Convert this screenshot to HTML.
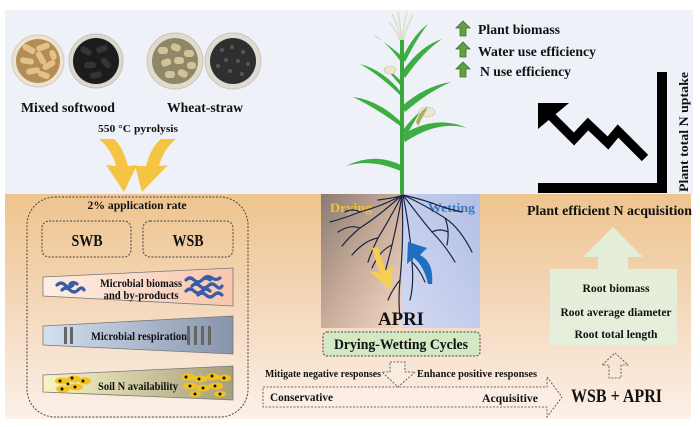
<!DOCTYPE html>
<html><head><meta charset="utf-8"><style>
html,body{margin:0;padding:0;background:#fff;}
svg{display:block;}
text{font-family:"Liberation Serif",serif;font-weight:bold;fill:#111;}
</style></head><body>
<svg width="700" height="427" viewBox="0 0 700 427" xmlns="http://www.w3.org/2000/svg">
<defs>
<linearGradient id="soil" x1="0" y1="0" x2="0" y2="1">
<stop offset="0" stop-color="#eec48e"/><stop offset="0.45" stop-color="#f3d6b6"/><stop offset="1" stop-color="#fcf0e9"/>
</linearGradient>
<linearGradient id="dry" x1="0" y1="0" x2="1" y2="1">
<stop offset="0" stop-color="#8a7b74"/><stop offset="0.5" stop-color="#c9ad9a"/><stop offset="1" stop-color="#f3d9c6"/>
</linearGradient>
<linearGradient id="wet" x1="1" y1="0" x2="0" y2="1">
<stop offset="0" stop-color="#b3bfe6"/><stop offset="1" stop-color="#d2d9f1"/>
</linearGradient>
<linearGradient id="t1" x1="0" y1="0" x2="1" y2="0"><stop offset="0" stop-color="#fdeee4"/><stop offset="1" stop-color="#f7c6ac"/></linearGradient>
<linearGradient id="t2" x1="0" y1="0" x2="1" y2="0"><stop offset="0" stop-color="#d3e0f0"/><stop offset="1" stop-color="#8794ab"/></linearGradient>
<linearGradient id="t3" x1="0" y1="0" x2="1" y2="0"><stop offset="0" stop-color="#f8f4c6"/><stop offset="1" stop-color="#a59f7c"/></linearGradient>
</defs>

<!-- backgrounds -->
<rect x="5" y="10" width="688" height="185" fill="#eef2f8"/>
<rect x="5" y="194" width="686" height="225" fill="url(#soil)"/>

<!-- bowls -->
<circle cx="38" cy="61" r="26" fill="#ece3d0" stroke="#d6ccb8"/>
<circle cx="38" cy="61" r="22" fill="#b38d55"/>
<g fill="#e3c288">
<rect x="22" y="46" width="14" height="6" rx="3" transform="rotate(30 29 49)"/>
<rect x="36" y="44" width="14" height="6" rx="3" transform="rotate(-20 43 47)"/>
<rect x="20" y="58" width="14" height="6" rx="3" transform="rotate(10 27 61)"/>
<rect x="34" y="55" width="14" height="6" rx="3" transform="rotate(60 41 58)"/>
<rect x="42" y="62" width="14" height="6" rx="3" transform="rotate(-30 49 65)"/>
<rect x="26" y="68" width="14" height="6" rx="3" transform="rotate(-10 33 71)"/>
<rect x="38" y="72" width="12" height="6" rx="3" transform="rotate(20 44 75)"/>
<rect x="48" y="52" width="10" height="6" rx="3" transform="rotate(70 53 55)"/>
</g>
<circle cx="96" cy="61" r="27" fill="#dcd8cf" stroke="#c8c3b8"/>
<circle cx="96" cy="61" r="23" fill="#1c1c1c"/>
<g fill="#353535">
<rect x="80" y="48" width="12" height="6" rx="3" transform="rotate(30 86 51)"/>
<rect x="96" y="46" width="12" height="6" rx="3" transform="rotate(-20 102 49)"/>
<rect x="84" y="62" width="12" height="6" rx="3"/>
<rect x="100" y="60" width="12" height="6" rx="3" transform="rotate(50 106 63)"/>
<rect x="90" y="72" width="12" height="6" rx="3" transform="rotate(-15 96 75)"/>
</g>
<circle cx="175" cy="61" r="28" fill="#dfdbce" stroke="#cbc5b6"/>
<circle cx="175" cy="61" r="23" fill="#8f8768"/>
<g fill="#cfc397">
<rect x="158" y="47" width="10" height="7" rx="3"/><rect x="171" y="44" width="10" height="7" rx="3" transform="rotate(20 176 47)"/>
<rect x="184" y="50" width="10" height="7" rx="3"/><rect x="161" y="59" width="10" height="7" rx="3" transform="rotate(-20 166 62)"/>
<rect x="174" y="57" width="10" height="7" rx="3"/><rect x="187" y="62" width="9" height="7" rx="3"/>
<rect x="165" y="71" width="10" height="7" rx="3"/><rect x="178" y="70" width="10" height="7" rx="3" transform="rotate(25 183 73)"/>
</g>
<circle cx="233" cy="61" r="28" fill="#dedbd3" stroke="#c9c5bc"/>
<circle cx="233" cy="61" r="23" fill="#2f2f2f"/>
<g fill="#575757">
<circle cx="222" cy="50" r="2"/><circle cx="232" cy="47" r="2"/><circle cx="243" cy="52" r="2"/><circle cx="226" cy="60" r="2"/>
<circle cx="238" cy="61" r="2"/><circle cx="248" cy="64" r="2"/><circle cx="218" cy="66" r="2"/><circle cx="230" cy="71" r="2"/><circle cx="242" cy="74" r="2"/>
</g>

<text x="21" y="112" font-size="14" textLength="94" lengthAdjust="spacingAndGlyphs">Mixed softwood</text>
<text x="167" y="112" font-size="14" textLength="76" lengthAdjust="spacingAndGlyphs">Wheat-straw</text>
<text x="98" y="132" font-size="11" textLength="80" lengthAdjust="spacingAndGlyphs">550 °C pyrolysis</text>

<!-- yellow arrows -->
<path d="M99,139 Q112,150 116,166 L106,165 L124,192 L137,165 L128,166 Q123,147 114,139 Z" fill="#f6c443"/>
<path d="M176,139 Q163,150 159,166 L168,165 L142,192 L135,166 L146,166 Q151,147 161,139 Z" fill="#f6c443"/>

<!-- left dashed container -->
<rect x="27" y="197" width="221" height="220" rx="28" fill="none" stroke="#444" stroke-width="1" stroke-dasharray="2,1.5"/>
<text x="137" y="209" font-size="12" text-anchor="middle" textLength="99" lengthAdjust="spacingAndGlyphs">2% application rate</text>
<rect x="42" y="221" width="89" height="36" rx="7" fill="none" stroke="#444" stroke-dasharray="2,1.5"/>
<rect x="143" y="221" width="90" height="36" rx="7" fill="none" stroke="#444" stroke-dasharray="2,1.5"/>
<text x="87" y="246" font-size="17" text-anchor="middle" textLength="31" lengthAdjust="spacingAndGlyphs">SWB</text>
<text x="188" y="246" font-size="17" text-anchor="middle" textLength="31" lengthAdjust="spacingAndGlyphs">WSB</text>

<!-- trapezoids -->
<polygon points="43,277 233,268 233,306 43,296" fill="url(#t1)" stroke="#777" stroke-width="0.8"/>
<polygon points="43,326 233,316 233,354 43,345" fill="url(#t2)" stroke="#777" stroke-width="0.8"/>
<polygon points="43,375 233,366 233,400 43,392" fill="url(#t3)" stroke="#777" stroke-width="0.8"/>

<g fill="none" stroke="#3a5ba8" stroke-width="3.2" stroke-linecap="round">
<path d="M57,285 q4,-4 8,0 t8,0"/><path d="M62,290 q4,-4 8,0 t8,0 t6,0"/><path d="M70,284 q3,-3 7,0"/>
<path d="M186,280 q4,-4 8,0 t8,0 t8,0"/><path d="M192,286 q4,-4 8,0 t8,0 t8,0 t6,0"/><path d="M186,291 q4,-4 8,0 t8,0 t8,0"/>
<path d="M198,295 q4,-4 8,0 t8,0 t8,0"/><path d="M204,278 q4,-3 8,0 t8,0"/>
</g>
<text x="141" y="287" font-size="11.5" text-anchor="middle" textLength="82" lengthAdjust="spacingAndGlyphs">Microbial biomass</text>
<text x="141" y="299" font-size="11.5" text-anchor="middle" textLength="75" lengthAdjust="spacingAndGlyphs">and by-products</text>

<g fill="#666"><rect x="64" y="327" width="3" height="17"/><rect x="70" y="327" width="3" height="17"/>
<rect x="187" y="326" width="3" height="19"/><rect x="194" y="326" width="3" height="19"/><rect x="201" y="326" width="3" height="19"/><rect x="208" y="326" width="3" height="19"/></g>
<text x="139" y="340" font-size="12" text-anchor="middle" textLength="96" lengthAdjust="spacingAndGlyphs">Microbial respiration</text>

<g fill="#f4c21c">
<ellipse cx="62" cy="381" rx="7" ry="3.5"/><ellipse cx="74" cy="379" rx="7" ry="3.5"/><ellipse cx="85" cy="381" rx="6" ry="3.5"/>
<ellipse cx="63" cy="389" rx="7" ry="3.5"/><ellipse cx="76" cy="387" rx="7" ry="3.5"/>
<ellipse cx="188" cy="377" rx="7" ry="3.5"/><ellipse cx="200" cy="379" rx="7" ry="3.5"/><ellipse cx="213" cy="377" rx="7" ry="3.5"/><ellipse cx="225" cy="378" rx="6" ry="3.5"/>
<ellipse cx="190" cy="386" rx="7" ry="3.5"/><ellipse cx="203" cy="388" rx="7" ry="3.5"/><ellipse cx="216" cy="386" rx="7" ry="3.5"/>
<ellipse cx="195" cy="394" rx="6" ry="3"/><ellipse cx="220" cy="394" rx="6" ry="3"/>
</g>
<g fill="#111">
<circle cx="60" cy="381" r="1.5"/><circle cx="72" cy="378" r="1.5"/><circle cx="83" cy="381" r="1.5"/><circle cx="62" cy="389" r="1.5"/><circle cx="75" cy="387" r="1.5"/><circle cx="68" cy="384" r="1.5"/>
<circle cx="186" cy="377" r="1.5"/><circle cx="199" cy="379" r="1.5"/><circle cx="212" cy="376" r="1.5"/><circle cx="224" cy="378" r="1.5"/>
<circle cx="190" cy="386" r="1.5"/><circle cx="203" cy="388" r="1.5"/><circle cx="215" cy="386" r="1.5"/><circle cx="195" cy="394" r="1.5"/><circle cx="220" cy="394" r="1.5"/>
</g>
<text x="138" y="390" font-size="12" text-anchor="middle" textLength="80" lengthAdjust="spacingAndGlyphs">Soil N availability</text>

<!-- plant -->
<g fill="none" stroke="#dcdccb" stroke-width="1.5">
<path d="M402,45 Q398,25 392,14"/><path d="M402,45 Q400,22 398,12"/><path d="M402,45 Q404,22 407,12"/><path d="M402,45 Q407,25 413,15"/><path d="M402,45 Q395,28 389,22"/>
</g>
<g fill="#3fae42">
<path d="M401,62 Q385,40 373,35 Q388,44 403,57 Z"/>
<path d="M402,58 Q414,34 428,24 Q417,38 405,62 Z"/>
<path d="M402,72 Q420,46 442,39 Q423,52 405,78 Z"/>
<path d="M401,92 Q383,70 360,64 Q381,76 403,98 Z"/>
<path d="M402,106 Q425,86 451,82 Q428,92 405,112 Z"/>
<path d="M401,122 Q378,100 353,97 Q376,108 403,128 Z"/>
<path d="M402,135 Q435,114 467,128 Q438,120 405,142 Z"/>
<path d="M401,165 Q374,152 346,166 Q372,158 403,172 Z"/>
<path d="M403,130 Q412,118 420,112 Q414,122 406,136 Z"/>
<path d="M400,80 Q392,72 386,68 Q392,76 401,86 Z"/>
</g>
<rect x="400" y="40" width="4" height="155" fill="#3aa93d"/>
<g fill="#e9e5cf" stroke="#c9c4a5" stroke-width="0.6">
<ellipse cx="427" cy="112" rx="8" ry="5"/><ellipse cx="390" cy="70" rx="6" ry="4"/>
</g>
<path d="M416,122 Q420,110 428,107 Q422,118 418,126 Z" fill="#a8b05a"/>

<!-- green up arrows + texts -->
<g fill="#63a043" stroke="#3d6e2a" stroke-width="0.8">
<path d="M463,21 L470,28 L466,28 L466,36 L460,36 L460,28 L456,28 Z"/>
<path d="M463,42 L470,49 L466,49 L466,57 L460,57 L460,49 L456,49 Z"/>
<path d="M463,62 L470,69 L466,69 L466,77 L460,77 L460,69 L456,69 Z"/>
</g>
<text x="478" y="34" font-size="14" textLength="82" lengthAdjust="spacingAndGlyphs">Plant biomass</text>
<text x="478" y="56" font-size="14" textLength="118" lengthAdjust="spacingAndGlyphs">Water use efficiency</text>
<text x="480" y="76" font-size="14" textLength="91" lengthAdjust="spacingAndGlyphs">N use efficiency</text>

<!-- axes + zigzag -->
<rect x="657" y="72" width="10" height="121" fill="#000"/>
<rect x="538" y="183" width="129" height="10" fill="#000"/>
<polyline points="551,116 574,139 588,124 608,143 618,131 645,158" fill="none" stroke="#000" stroke-width="9" stroke-linejoin="miter"/>
<polygon points="538,103 569,103 538,129" fill="#000"/>
<text transform="translate(688,132) rotate(-90)" font-size="13" text-anchor="middle" textLength="120" lengthAdjust="spacingAndGlyphs">Plant total N uptake</text>

<!-- APRI panel -->
<rect x="321" y="194" width="82" height="134" fill="url(#dry)"/>
<rect x="402" y="194" width="78" height="134" fill="url(#wet)"/>
<text x="330" y="212" font-size="13" textLength="42" lengthAdjust="spacingAndGlyphs" style="fill:#f1c232">Drying</text>
<text x="428" y="212" font-size="13" textLength="47" lengthAdjust="spacingAndGlyphs" style="fill:#3b7cc1">Wetting</text>
<g fill="none" stroke="#1b2440" stroke-width="1.2" stroke-linecap="round">
<path d="M402,195 Q385,205 360,212 Q345,218 330,222"/>
<path d="M402,195 Q380,215 360,228 Q350,236 342,246"/>
<path d="M402,195 Q392,215 378,238 Q372,250 368,262"/>
<path d="M402,195 Q398,220 392,245 Q388,262 384,275"/>
<path d="M402,195 Q404,240 400,280 Q398,300 400,318"/>
<path d="M403,195 Q410,230 412,262 Q414,285 410,300"/>
<path d="M403,195 Q418,215 432,232 Q445,245 455,262"/>
<path d="M403,195 Q425,205 445,218 Q460,228 472,252"/>
<path d="M403,195 Q425,200 440,206 Q452,210 462,212"/>
<path d="M403,195 Q395,198 378,200"/>
<path d="M360,228 Q350,224 338,232"/><path d="M378,238 Q365,240 352,255"/>
<path d="M392,245 Q380,250 372,268"/><path d="M432,232 Q440,228 448,232"/>
<path d="M445,218 Q450,230 447,245"/><path d="M412,262 Q420,270 425,282"/>
<path d="M400,280 Q392,290 388,300"/><path d="M360,212 Q352,208 345,212"/>
</g>
<path d="M372,248 Q376,262 380,273 L369,271 L391,290 L393,266 L386,271 Q381,258 378,247 Z" fill="#f6cf52"/>
<path d="M432,284 Q434,262 420,255 L427,248 L408,242 L407,264 L414,258 Q424,266 428,284 Z" fill="#1f6fc0"/>
<text x="401" y="325" font-size="19" text-anchor="middle" textLength="46" lengthAdjust="spacingAndGlyphs">APRI</text>

<rect x="323" y="332" width="157" height="24" rx="4" fill="#d3e9c3" stroke="#444" stroke-dasharray="2,1.5"/>
<text x="401" y="349" font-size="14.5" text-anchor="middle" textLength="134" lengthAdjust="spacingAndGlyphs">Drying-Wetting Cycles</text>

<!-- down dashed arrow -->
<polygon points="390,362 405,362 405,372 415,372 398,387 382,372 390,372" fill="#f8ebe0" stroke="#444" stroke-width="0.8" stroke-dasharray="2,1.5"/>
<text x="265" y="377" font-size="10.5" textLength="116" lengthAdjust="spacingAndGlyphs">Mitigate negative responses</text>
<text x="417" y="377" font-size="10.5" textLength="120" lengthAdjust="spacingAndGlyphs">Enhance positive responses</text>

<!-- big arrow -->
<polygon points="263,387 547,387 547,377 562,397 547,417 547,407 263,407" fill="#fbf0e8" fill-opacity="0.5" stroke="#444" stroke-width="0.8" stroke-dasharray="2,1.5"/>
<text x="270" y="401" font-size="12" textLength="63" lengthAdjust="spacingAndGlyphs">Conservative</text>
<text x="538" y="402" font-size="12" text-anchor="end" textLength="56" lengthAdjust="spacingAndGlyphs">Acquisitive</text>

<text x="571" y="402" font-size="19" textLength="91" lengthAdjust="spacingAndGlyphs">WSB + APRI</text>

<!-- small up arrow -->
<polygon points="615,353 628,365 621,365 621,378 609,378 609,365 602,365" fill="none" stroke="#444" stroke-width="0.8" stroke-dasharray="2,1.5"/>

<!-- root box arrow -->
<polygon points="613,227 643,257 628,257 628,269 677,269 677,345 550,345 550,269 598,269 598,257 583,257" fill="#e3f0dc" fill-opacity="0.92"/>
<text x="527" y="215" font-size="14" textLength="165" lengthAdjust="spacingAndGlyphs">Plant efficient N acquisition</text>
<text x="616" y="292" font-size="12" text-anchor="middle" textLength="67" lengthAdjust="spacingAndGlyphs">Root biomass</text>
<text x="616" y="316" font-size="12" text-anchor="middle" textLength="111" lengthAdjust="spacingAndGlyphs">Root average diameter</text>
<text x="616" y="338" font-size="12" text-anchor="middle" textLength="83" lengthAdjust="spacingAndGlyphs">Root total length</text>
</svg>
</body></html>
